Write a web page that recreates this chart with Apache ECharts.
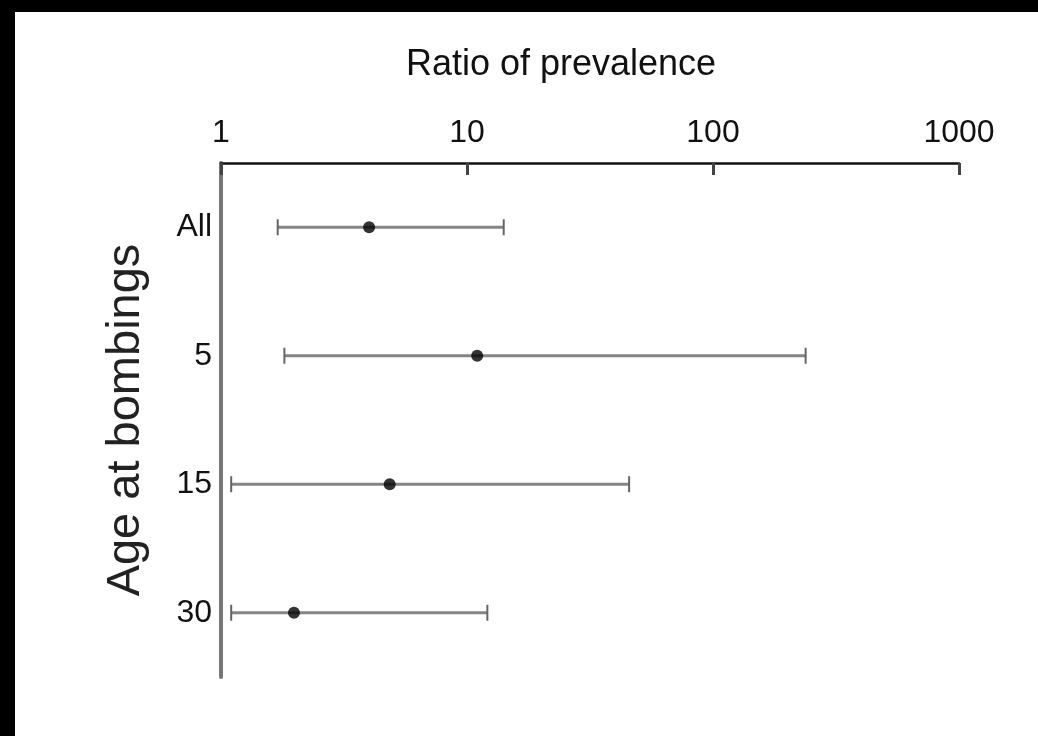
<!DOCTYPE html>
<html>
<head>
<meta charset="utf-8">
<script src="https://cdn.jsdelivr.net/npm/echarts@6/dist/echarts.min.js"></script>
<style>
html,body{margin:0;padding:0;background:#fff;}
#chart{width:1038px;height:736px;}
</style>
</head>
<body>
<div id="chart"></div>
<script>
// Data
const categories = ['All', '5', '15', '30'];
const pointEstimates = [4.0, 11.0, 4.85, 1.98];
const lowerBounds = [1.70, 1.81, 1.10, 1.10];
const upperBounds = [14.1, 238, 45.6, 12.1];
const xTicks = [1, 10, 100, 1000];
const titleText = 'Ratio of prevalence';
const yName = 'Age at bombings';

const FONT = "'Liberation Sans', Arial, sans-serif";

const ciData = categories.map((c, i) => [i, lowerBounds[i], upperBounds[i]]);
const ptData = categories.map((c, i) => [pointEstimates[i], i]);

const chart = echarts.init(document.getElementById('chart'), null, {renderer: 'canvas'});

const option = {
  backgroundColor: '#fff',
  animation: false,
  title: {
    text: titleText,
    left: 561,
    top: 47,
    padding: 0,
    textAlign: 'center',
    textStyle: {fontFamily: FONT, fontSize: 36, fontWeight: 'normal', color: '#111'}
  },
  graphic: [
    {type: 'rect', shape: {x: 0, y: 0, width: 1038, height: 12}, style: {fill: '#000'}, z: 100},
    {type: 'rect', shape: {x: 0, y: 0, width: 15, height: 736}, style: {fill: '#000'}, z: 100}
  ],
  grid: {left: 221, top: 163, right: 79, bottom: 59, containLabel: false},
  xAxis: {
    type: 'log',
    logBase: 10,
    min: xTicks[0],
    max: xTicks[xTicks.length - 1],
    position: 'top',
    axisLine: {show: true, lineStyle: {color: '#111', width: 2.5}},
    axisTick: {show: true, inside: true, length: 12, lineStyle: {color: '#444', width: 3}},
    splitLine: {show: false},
    minorTick: {show: false},
    axisLabel: {
      show: true,
      margin: 14,
      fontFamily: FONT,
      fontSize: 32,
      color: '#111',
      formatter: v => String(Math.round(v))
    }
  },
  yAxis: {
    type: 'category',
    data: categories,
    inverse: true,
    boundaryGap: true,
    name: yName,
    nameLocation: 'middle',
    nameRotate: 90,
    nameGap: 71,
    nameTextStyle: {fontFamily: FONT, fontSize: 47, color: '#222'},
    axisLine: {show: true, lineStyle: {color: '#777', width: 4}},
    axisTick: {show: false},
    splitLine: {show: false},
    axisLabel: {
      margin: 9,
      fontFamily: FONT,
      fontSize: 32,
      color: '#111'
    }
  },
  series: [
    {
      type: 'custom',
      data: ciData,
      encode: {y: 0, x: [1, 2]},
      renderItem: function (params, api) {
        const cat = api.value(0);
        const lo = api.coord([api.value(1), cat]);
        const hi = api.coord([api.value(2), cat]);
        const capH = 8;
        const style = {stroke: '#858585', lineWidth: 3};
        return {
          type: 'group',
          children: [
            {type: 'line', shape: {x1: lo[0], y1: lo[1], x2: hi[0], y2: hi[1]}, style: style},
            {type: 'line', shape: {x1: lo[0], y1: lo[1] - capH, x2: lo[0], y2: lo[1] + capH}, style: {stroke: '#666', lineWidth: 2}},
            {type: 'line', shape: {x1: hi[0], y1: hi[1] - capH, x2: hi[0], y2: hi[1] + capH}, style: {stroke: '#666', lineWidth: 2}}
          ]
        };
      },
      z: 2
    },
    {
      type: 'scatter',
      data: ptData,
      symbol: 'circle',
      symbolSize: 12,
      itemStyle: {color: '#000'},
      z: 3
    }
  ]
};

chart.setOption(option);
</script>
</body>
</html>
